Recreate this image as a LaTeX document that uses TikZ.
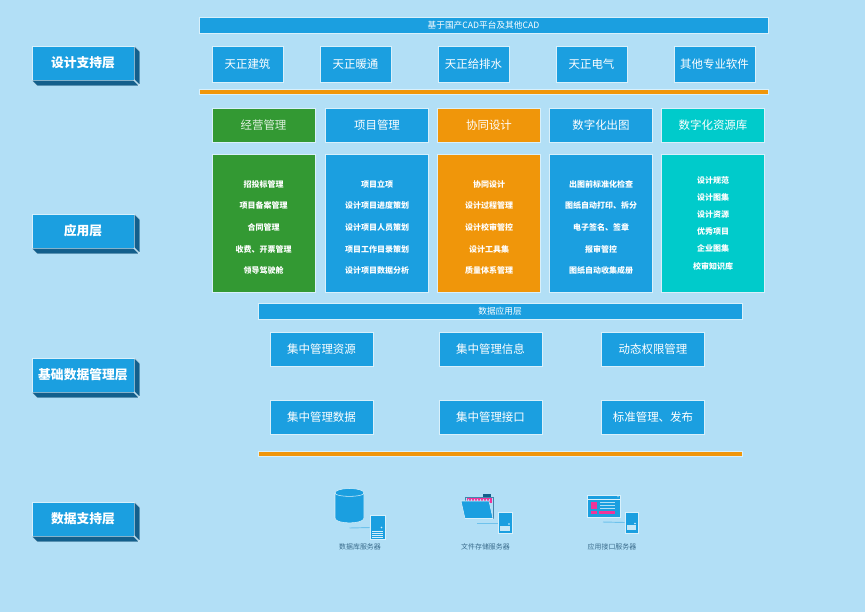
\documentclass[tikz,border=0pt]{standalone}
\usepackage{fontspec}
\setmainfont{Noto Sans CJK SC}
\definecolor{bgc}{HTML}{B2DFF6}
\definecolor{bluec}{HTML}{1B9FE0}
\definecolor{orangec}{HTML}{F0960A}
\definecolor{greenc}{HTML}{339933}
\definecolor{tealc}{HTML}{00CBCB}
\definecolor{darkc}{HTML}{135F8C}
\definecolor{edgec}{HTML}{D8F0FB}
\definecolor{pinkc}{HTML}{F0359A}
\definecolor{labelc}{HTML}{3A6C8C}
\tikzset{
  x=0.75pt,y=-0.75pt,
  box/.style={draw=edgec,line width=0.4pt,text=white,inner sep=0pt,align=center,fill=bluec},
  sz/.style 2 args={minimum width=#1*0.75pt,minimum height=#2*0.75pt},
  barbox/.style={box,font=\fontsize{6.5}{8}\selectfont},
  soft/.style={box,font=\fontsize{8.6}{10}\selectfont},
  head/.style={soft,sz={103}{34}},
  midbox/.style={soft,sz={103}{34}},
  tool/.style={soft,sz={71}{36}},
  rulebar/.style={draw=edgec,line width=0.3pt,fill=orangec,inner sep=0pt},
  bodybox/.style={box,sz={103}{138}},
  lines/.style={text=white,align=center,inner sep=0pt,font=\fontsize{6}{16.2}\bfseries\selectfont},
  tlines/.style={text=white,align=center,inner sep=0pt,font=\fontsize{6}{12.9}\bfseries\selectfont},
  layer/.style={box,sz={102}{34},font=\fontsize{9.6}{11}\bfseries\selectfont},
  sideface/.style={fill=darkc,draw=edgec,line width=0.3pt},
  srv/.style={draw=edgec,line width=0.5pt,fill=bluec,inner sep=0pt},
  linkline/.style={draw=bluec!45!bgc,line width=0.7pt},
  srvcap/.style={text=labelc,inner sep=0pt,font=\fontsize{5.2}{6}\selectfont}
}
\begin{document}
\begin{tikzpicture}
\useasboundingbox (0,0) rectangle (865,612);
\fill[bgc] (0,0) rectangle (865,612);

% left layers
\foreach \nm/\cy/\tx in {la/63/设计支持层,lb/231/应用层,lc/375/基础数据管理层,ld/519/数据支持层}{
  \node[layer] (\nm) at (83,\cy) {\tx};
  \draw[sideface] (\nm.north east) -- ++(5.5,5.5) -- ++(0,34) -- ++(-5.5,-5.5) -- cycle;
  \draw[sideface] (\nm.south west) -- ++(5.5,5.5) -- ++(102,0) -- ++(-5.5,-5.5) -- cycle;
}

% top
\node[barbox,sz={569}{16}] (top) at (483.5,25) {基于国产CAD平台及其他CAD};
\node[tool] (t1) at (247.5,64) {天正建筑};
\node[tool] (t2) at (355.5,64) {天正暖通};
\node[tool] (t3) at (473.5,64) {天正给排水};
\node[tool] (t4) at (591.5,64) {天正电气};
\node[soft,sz={81}{36}] (t5) at (714.5,64) {其他专业软件};
\node[rulebar,minimum width=426.75pt,minimum height=3.75pt] (r1) at (483.5,91.5) {};

% application headers
\node[head,fill=greenc,text=white!85!greenc] (h1) at (263.5,125) {经营管理};
\node[head] (h2) at (377,125) {项目管理};
\node[head,fill=orangec] (h3) at (489,125) {协同设计};
\node[head] (h4) at (601,125) {数字化出图};
\node[head,fill=tealc] (h5) at (713,125) {数字化资源库};

% application bodies
\node[bodybox,fill=greenc] (b1) at (263.5,223.5) {};
\node[bodybox] (b2) at (377,223.5) {};
\node[bodybox,fill=orangec] (b3) at (489,223.5) {};
\node[bodybox] (b4) at (601,223.5) {};
\node[bodybox,fill=tealc] (b5) at (713,223.5) {};
\node[lines] (x1) at (263.5,227.5) {招投标管理\\项目备案管理\\合同管理\\收费、开票管理\\领导驾驶舱};
\node[lines] (x2) at (377,227.5) {项目立项\\设计项目进度策划\\设计项目人员策划\\项目工作目录策划\\设计项目数据分析};
\node[lines] (x3) at (489,227.5) {协同设计\\设计过程管理\\设计校审管控\\设计工具集\\质量体系管理};
\node[lines] (x4) at (601,227.5) {出图前标准化检查\\图纸自动打印、拆分\\电子签名、签章\\报审管控\\图纸自动收集成册};
\node[tlines] (x5) at (713,223) {设计规范\\设计图集\\设计资源\\优秀项目\\企业图集\\校审知识库};

% data management
\node[barbox,sz={484}{16}] (dbar) at (500,311) {数据应用层};
\node[midbox] (m1) at (321.5,349) {集中管理资源};
\node[midbox] (m2) at (490.5,349) {集中管理信息};
\node[midbox] (m3) at (653,349) {动态权限管理};
\node[midbox] (m4) at (321.5,417.5) {集中管理数据};
\node[midbox] (m5) at (490.5,417.5) {集中管理接口};
\node[midbox] (m6) at (653,417.5) {标准管理、发布};
\node[rulebar,minimum width=363pt,minimum height=3.75pt] (r2) at (500,453.5) {};

% data support: database
\coordinate (c1) at (349.5,528);
\node[srv,sz={15}{24}] (s1) at (377.5,527.5) {};
\draw[linkline] (c1) -- (s1.west);
\filldraw[fill=bluec,draw=edgec,line width=0.4pt] (335,493) -- (335,518) .. controls (335,524.5) and (364,524.5) .. (364,518) -- (364,493) .. controls (364,487) and (335,487) .. (335,493) -- cycle;
\draw[edgec,line width=0.4pt] (335,493) .. controls (335,497.5) and (364,497.5) .. (364,493);
\fill[edgec] (381.5,527.5) circle (0.9);
\foreach \yy in {531,533,535,537} \fill[edgec] (372,\yy) rectangle (383,\yy+1.2);
\node[srvcap] (k1) at (360,547) {数据库服务器};

% data support: file storage
\coordinate (c2) at (477,523);
\node[srv,sz={14}{21}] (s2) at (505,523) {};
\draw[linkline] (c2) -- (s2.west);
\filldraw[fill=bgc,draw=darkc!70!bgc,line width=0.6pt] (465,497) rectangle (493.5,518);
\fill[darkc] (483,494) rectangle (491,497);
\fill[pinkc] (466.5,498) rectangle (492,503);
\foreach \xx in {468,471,...,490} \fill[bgc] (\xx,499) rectangle (\xx+1,501);
\filldraw[fill=bluec,draw=edgec,line width=0.4pt] (461,501) -- (489,501) -- (493,518.5) -- (465,518.5) -- cycle;
\fill[edgec] (509,524) circle (0.8);
\fill[edgec!90!bluec] (500,526) rectangle (510,531);
\node[srvcap] (k2) at (485.5,547) {文件存储服务器};

% data support: interface
\coordinate (c3) at (603,522);
\node[srv,sz={13}{21}] (s3) at (631.5,522.5) {};
\draw[linkline] (c3) -- (s3.west);
\filldraw[fill=bluec,draw=edgec,line width=0.5pt] (587,495) rectangle (620,517);
\draw[edgec,line width=0.3pt] (587,499) -- (620,499);
\fill[edgec] (618,496.8) circle (0.6);
\fill[pinkc] (591,502) rectangle (597,509);
\foreach \yy in {502,505,508} \fill[edgec!80!bluec] (600,\yy) rectangle (615,\yy+1);
\fill[pinkc] (591,511) rectangle (597,514);
\fill[pinkc] (599,511) rectangle (615,514);
\fill[edgec] (635,523.5) circle (0.8);
\fill[edgec!90!bluec] (627,525) rectangle (636,530);
\node[srvcap] (k3) at (612,547) {应用接口服务器};
\end{tikzpicture}
\end{document}
